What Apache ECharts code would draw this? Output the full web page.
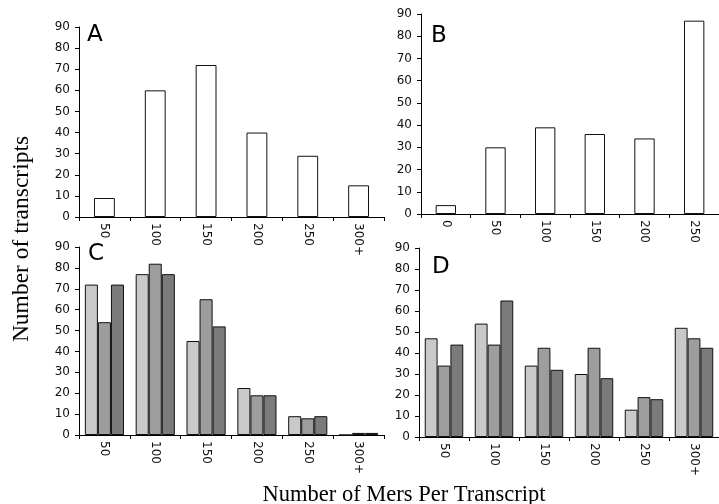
<!DOCTYPE html>
<html lang="en">
<head>
<meta charset="UTF-8">
<title>Number of Mers Per Transcript</title>
<script src="https://cdn.jsdelivr.net/npm/echarts@6/dist/echarts.min.js"></script>
<style>
    html, body { margin: 0; padding: 0; background: #fff; }
    #main { width: 719px; height: 504px; }
</style>
</head>
<body>
<div id="main"></div>
<script>
// categories (tick labels)
var catsA = ['50', '100', '150', '200', '250', '300+'];
var catsB = ['0', '50', '100', '150', '200', '250'];
var catsC = ['50', '100', '150', '200', '250', '300+'];
var catsD = ['50', '100', '150', '200', '250', '300+'];

// panel A / B: single series
var valuesA = [9, 60, 72, 40, 29, 15];
var valuesB = [4, 30, 39, 36, 34, 87];

// panel C / D: three series each (light, mid, dark)
var c1 = [72, 77, 45, 22.5, 9, 0];
var c2 = [54, 82, 65, 19, 8, 1];
var c3 = [72, 77, 52, 19, 9, 1];
var d1 = [47, 54, 34, 30, 13, 52];
var d2 = [34, 44, 42.5, 42.5, 19, 47];
var d3 = [44, 65, 32, 28, 18, 42.5];

var sans = 'DejaVu Sans';
var serif = 'Liberation Serif';
var grey = ['#c9c9c9', '#9d9d9d', '#7b7b7b'];

function xAx(idx, cats) {
    return {
        type: 'category', gridIndex: idx, data: cats,
        axisLine: { lineStyle: { color: '#000', width: 1 } },
        axisTick: { show: true, length: 4, lineStyle: { color: '#000' } },
        axisLabel: { rotate: -90, color: '#111', fontFamily: sans, fontSize: 12, margin: 6 }
    };
}
function yAx(idx) {
    return {
        type: 'value', gridIndex: idx, min: 0, max: 90, interval: 10,
        axisLine: { show: true, lineStyle: { color: '#000', width: 1 } },
        axisTick: { show: true, length: 4, lineStyle: { color: '#000' } },
        axisLabel: { color: '#111', fontFamily: sans, fontSize: 12, margin: 9 },
        splitLine: { show: false }
    };
}
function groupBar(idx, data, k) {
    return {
        type: 'bar', xAxisIndex: idx, yAxisIndex: idx, data: data,
        barGap: '0%', barCategoryGap: '23%',
        itemStyle: { color: grey[k], borderColor: '#111', borderWidth: 1 }
    };
}

var myChart = echarts.init(document.getElementById('main'));

var option = {
    animation: false,
    grid: [
        { left: 79, top: 27, width: 305, height: 190 },
        { left: 421, top: 14, width: 305, height: 200 },
        { left: 79, top: 247, width: 305, height: 188 },
        { left: 419, top: 248, width: 305, height: 189 }
    ],
    xAxis: [xAx(0, catsA), xAx(1, catsB), xAx(2, catsC), xAx(3, catsD)],
    yAxis: [yAx(0), yAx(1), yAx(2), yAx(3)],
    series: [
        {
            type: 'bar', xAxisIndex: 0, yAxisIndex: 0, data: valuesA, barWidth: '41%',
            itemStyle: { color: '#fff', borderColor: '#111', borderWidth: 1 }
        },
        {
            type: 'bar', xAxisIndex: 1, yAxisIndex: 1, data: valuesB, barWidth: '41%',
            itemStyle: { color: '#fff', borderColor: '#111', borderWidth: 1 }
        },
        groupBar(2, c1, 0), groupBar(2, c2, 1), groupBar(2, c3, 2),
        groupBar(3, d1, 0), groupBar(3, d2, 1), groupBar(3, d3, 2)
    ],
    graphic: [
        { type: 'text', left: 87, top: 24, style: { text: 'A', fontFamily: sans, fontSize: 23, fill: '#000' } },
        { type: 'text', left: 431, top: 25, style: { text: 'B', fontFamily: sans, fontSize: 23, fill: '#000' } },
        { type: 'text', left: 88, top: 243, style: { text: 'C', fontFamily: sans, fontSize: 23, fill: '#000' } },
        { type: 'text', left: 432, top: 256, style: { text: 'D', fontFamily: sans, fontSize: 23, fill: '#000' } },
        {
            type: 'text', x: 22, y: 239, rotation: Math.PI / 2,
            style: { text: 'Number of transcripts', fontFamily: serif, fontSize: 23.5, fill: '#000',
                     align: 'center', verticalAlign: 'middle' }
        },
        {
            type: 'text', x: 404, y: 495,
            style: { text: 'Number of Mers Per Transcript', fontFamily: serif, fontSize: 22.5, fill: '#000',
                     align: 'center', verticalAlign: 'middle' }
        }
    ]
};

myChart.setOption(option);
</script>
</body>
</html>
